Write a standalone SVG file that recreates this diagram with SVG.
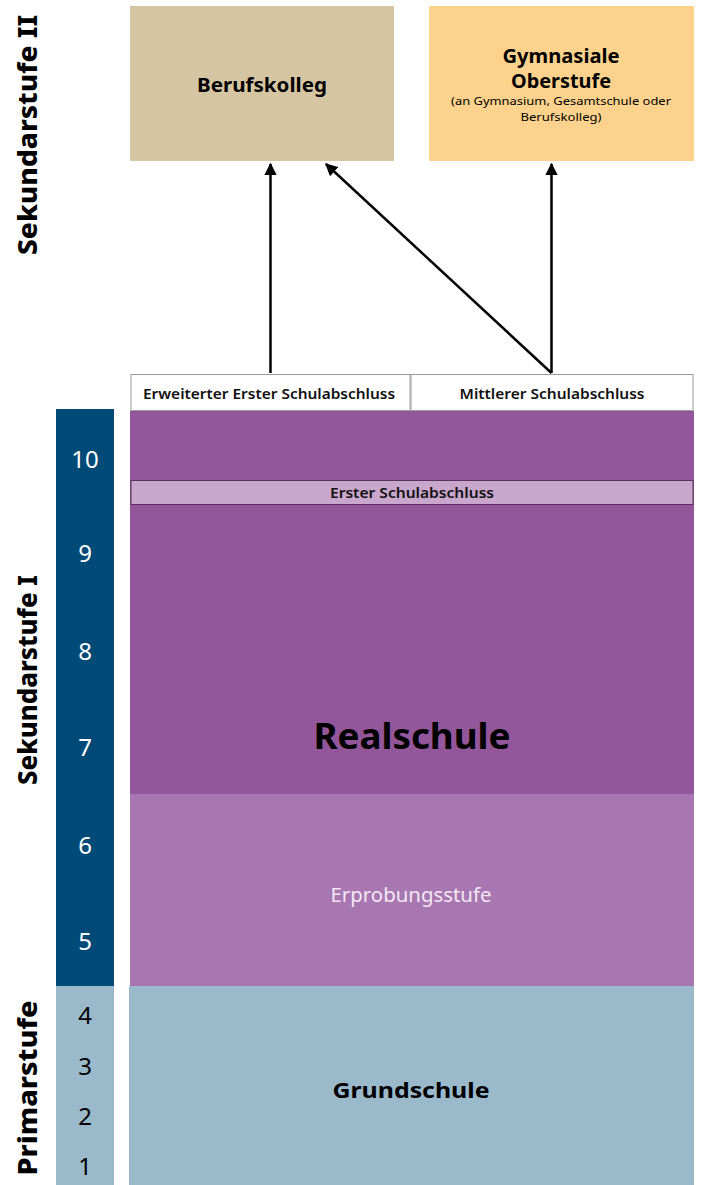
<svg xmlns="http://www.w3.org/2000/svg" width="702" height="1185" viewBox="0 0 702 1185">
<style>
text{font-family:"Noto Sans","Open Sans","Liberation Sans",sans-serif;text-anchor:middle}
.b{font-weight:700}
.side{font-size:27px;font-weight:800;fill:#000}
.num{font-size:24px;font-weight:400}
.lbl{font-size:14px;font-weight:600;fill:#111}
.conn{stroke:#000;stroke-width:2.5;fill:none;marker-end:url(#ah)}
</style>
<defs>
<marker id="ah" viewBox="0 0 10 10" refX="9" refY="5" markerWidth="5" markerHeight="5" orient="auto" markerUnits="strokeWidth">
<path d="M0,0 L10,5 L0,10 z" fill="#000"/>
</marker>
</defs>
<rect width="702" height="1185" fill="#fff"/>
<g id="side-labels">
<text class="side" transform="translate(37,135) rotate(-90)" textLength="240" lengthAdjust="spacingAndGlyphs">Sekundarstufe II</text>
<text class="side" transform="translate(37,680) rotate(-90)" textLength="210" lengthAdjust="spacingAndGlyphs">Sekundarstufe I</text>
<text class="side" transform="translate(37,1088) rotate(-90)" textLength="175" lengthAdjust="spacingAndGlyphs">Primarstufe</text>
</g>
<g id="grades-sek">
<rect x="56" y="409" width="58" height="577" fill="#004a77"/>
<text class="num" x="85" y="468" fill="#fff">10</text>
<text class="num" x="85" y="562" fill="#fff">9</text>
<text class="num" x="85" y="660" fill="#fff">8</text>
<text class="num" x="85" y="756" fill="#fff">7</text>
<text class="num" x="85" y="854" fill="#fff">6</text>
<text class="num" x="85" y="950" fill="#fff">5</text>
</g>
<g id="grades-prim">
<rect x="56" y="986" width="58" height="199" fill="#9ab9cb"/>
<text class="num" x="85" y="1024" fill="#000">4</text>
<text class="num" x="85" y="1075" fill="#000">3</text>
<text class="num" x="85" y="1125" fill="#000">2</text>
<text class="num" x="85" y="1175" fill="#000">1</text>
</g>
<g id="berufskolleg">
<rect x="130" y="6" width="264" height="155" fill="#d5c5a3"/>
<text class="b" x="262" y="92" font-size="19" textLength="130" lengthAdjust="spacingAndGlyphs">Berufskolleg</text>
</g>
<g id="gymnasiale-oberstufe">
<rect x="429" y="6" width="265" height="155" fill="#fcd28c"/>
<text class="b" x="561" y="63" font-size="19" textLength="117" lengthAdjust="spacingAndGlyphs">Gymnasiale</text>
<text class="b" x="561" y="88" font-size="19" textLength="100" lengthAdjust="spacingAndGlyphs">Oberstufe</text>
<text x="561" y="105" font-size="11.5" textLength="220" lengthAdjust="spacingAndGlyphs">(an Gymnasium, Gesamtschule oder</text>
<text x="561" y="121" font-size="11.5" textLength="81" lengthAdjust="spacingAndGlyphs">Berufskolleg)</text>
</g>
<g id="realschule">
<rect x="130" y="411" width="564" height="383" fill="#94569b"/>
<text class="b" x="412" y="749" font-size="36" textLength="197" lengthAdjust="spacingAndGlyphs">Realschule</text>
</g>
<g id="erster-schulabschluss">
<rect x="131" y="480.5" width="562" height="24" fill="#c9a6cc" stroke="#5a3060" stroke-width="1"/>
<text class="lbl" x="412" y="498" textLength="164" lengthAdjust="spacingAndGlyphs">Erster Schulabschluss</text>
</g>
<g id="erprobungsstufe">
<rect x="130" y="794" width="564" height="192" fill="#a877b2"/>
<text x="411" y="902" font-size="19" fill="#f3e6f3" textLength="161" lengthAdjust="spacingAndGlyphs">Erprobungsstufe</text>
</g>
<g id="grundschule">
<rect x="129" y="986" width="565" height="199" fill="#9ab9cb"/>
<text class="b" x="411" y="1098" font-size="22" textLength="157" lengthAdjust="spacingAndGlyphs">Grundschule</text>
</g>
<g id="erweiterter-erster-schulabschluss">
<rect x="131" y="374.5" width="279" height="36" fill="#fff" stroke="#9a9a9a" stroke-width="1"/>
<text class="lbl" x="269" y="399" textLength="252" lengthAdjust="spacingAndGlyphs">Erweiterter Erster Schulabschluss</text>
</g>
<g id="mittlerer-schulabschluss">
<rect x="411" y="374.5" width="282" height="36" fill="#fff" stroke="#9a9a9a" stroke-width="1"/>
<text class="lbl" x="552" y="399" textLength="185" lengthAdjust="spacingAndGlyphs">Mittlerer Schulabschluss</text>
</g>
<g id="connectors">
<line class="conn" x1="270.5" y1="373" x2="270.5" y2="164"/>
<line class="conn" x1="551.5" y1="373" x2="326" y2="164"/>
<line class="conn" x1="551.5" y1="373" x2="551.5" y2="164"/>
</g>
</svg>
